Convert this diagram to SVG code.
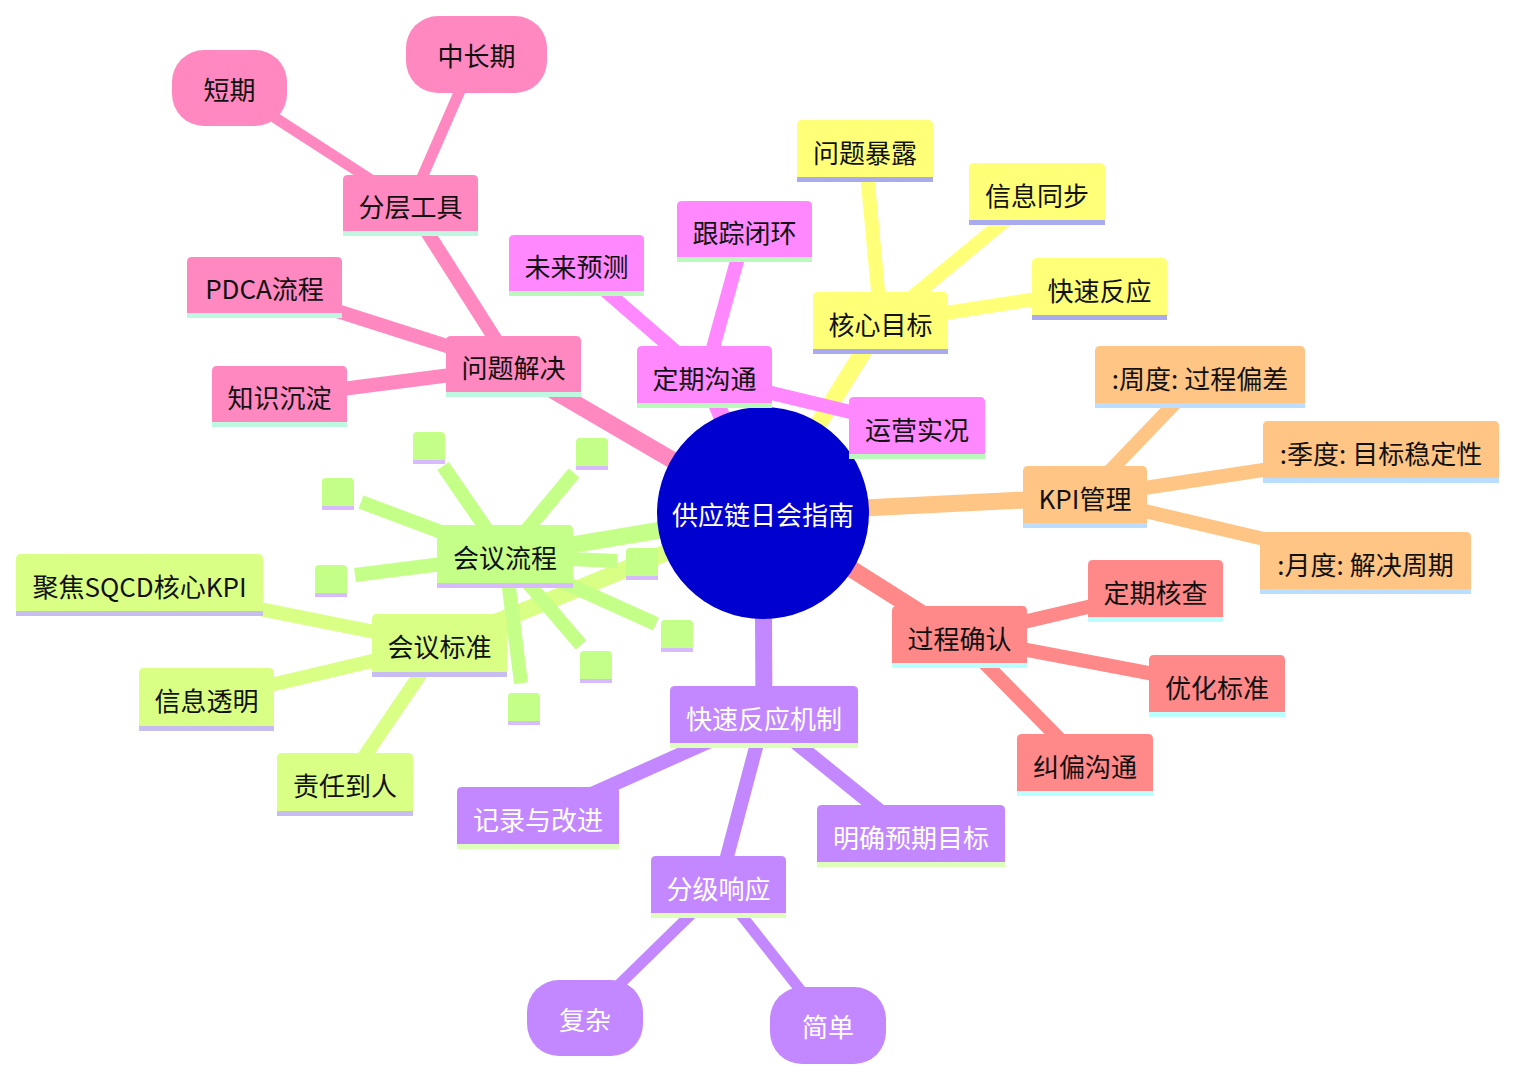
<svg xmlns="http://www.w3.org/2000/svg" width="1515" height="1080" viewBox="0 0 1515 1080">
<style>
text{font-family:"Noto Sans CJK SC","Noto Sans",sans-serif;font-size:26px;text-anchor:middle;dominant-baseline:central;fill:#111}
.e{fill:none;stroke-linecap:butt}
.d1{stroke-width:17}.d2{stroke-width:14}.d3{stroke-width:11}
.pk{fill:#ff88c0;stroke:#ff88c0}.pkS{fill:#bff8e0}
.mg{fill:#ff88ff;stroke:#ff88ff}.mgS{fill:#bbf8bb}
.yl{fill:#ffff78;stroke:#ffff78}.ylS{fill:#aaaaee}
.or{fill:#ffc585;stroke:#ffc585}.orS{fill:#bbddff}
.rd{fill:#ff8888;stroke:#ff8888}.rdS{fill:#bbffff}
.pu{fill:#c388ff;stroke:#c388ff}.puS{fill:#ddffbb}
.gr{fill:#c4ff88;stroke:#c4ff88}.grS{fill:#d8bbff}
.yg{fill:#d9ff84;stroke:#d9ff84}.ygS{fill:#c8bdf0}
.e.pk,.e.mg,.e.yl,.e.or,.e.rd,.e.pu,.e.gr,.e.yg{fill:none}
.n{stroke:none}
.w{fill:#fff}
</style>
<g id="connectors">
<line class="e d1 pk" x1="763" y1="513" x2="513" y2="367"/>
<line class="e d1 mg" x1="763" y1="513" x2="705" y2="377"/>
<line class="e d1 yl" x1="763" y1="513" x2="881" y2="323"/>
<line class="e d1 or" x1="763" y1="513" x2="1085" y2="497"/>
<line class="e d1 rd" x1="763" y1="513" x2="959" y2="637"/>
<line class="e d1 pu" x1="763" y1="513" x2="764" y2="717"/>
<line class="e d1 yg" x1="763" y1="513" x2="440" y2="645"/>
<line class="e d1 gr" x1="763" y1="513" x2="505" y2="556"/>
<line class="e d2 pk" x1="513" y1="367" x2="410" y2="205"/>
<line class="e d2 pk" x1="513" y1="367" x2="265" y2="288"/>
<line class="e d2 pk" x1="513" y1="367" x2="280" y2="397"/>
<line class="e d3 pk" x1="410" y1="205" x2="229" y2="88"/>
<line class="e d3 pk" x1="410" y1="205" x2="476" y2="54"/>
<line class="e d2 mg" x1="705" y1="377" x2="577" y2="266"/>
<line class="e d2 mg" x1="705" y1="377" x2="745" y2="232"/>
<line class="e d2 mg" x1="705" y1="377" x2="917" y2="428"/>
<line class="e d2 yl" x1="881" y1="323" x2="865" y2="151"/>
<line class="e d2 yl" x1="881" y1="323" x2="1037" y2="194"/>
<line class="e d2 yl" x1="881" y1="323" x2="1100" y2="289"/>
<line class="e d2 or" x1="1085" y1="497" x2="1200" y2="377"/>
<line class="e d2 or" x1="1085" y1="497" x2="1381" y2="452"/>
<line class="e d2 or" x1="1085" y1="497" x2="1366" y2="563"/>
<line class="e d2 rd" x1="959" y1="637" x2="1156" y2="591"/>
<line class="e d2 rd" x1="959" y1="637" x2="1217" y2="686"/>
<line class="e d2 rd" x1="959" y1="637" x2="1085" y2="765"/>
<line class="e d2 pu" x1="764" y1="717" x2="538" y2="818"/>
<line class="e d2 pu" x1="764" y1="717" x2="911" y2="836"/>
<line class="e d2 pu" x1="764" y1="717" x2="719" y2="887"/>
<line class="e d3 pu" x1="719" y1="887" x2="585" y2="1018"/>
<line class="e d3 pu" x1="719" y1="887" x2="828" y2="1025"/>
<line class="e d2 gr" x1="505" y1="556" x2="443" y2="466"/>
<line class="e d2 gr" x1="505" y1="556" x2="574" y2="473"/>
<line class="e d2 gr" x1="505" y1="556" x2="361" y2="502"/>
<line class="e d2 gr" x1="505" y1="556" x2="355" y2="575"/>
<line class="e d2 gr" x1="505" y1="556" x2="617" y2="561"/>
<line class="e d2 gr" x1="505" y1="556" x2="656" y2="624"/>
<line class="e d2 gr" x1="505" y1="556" x2="581" y2="645"/>
<line class="e d2 gr" x1="505" y1="556" x2="521" y2="683"/>
<line class="e d2 yg" x1="440" y1="645" x2="140" y2="585"/>
<line class="e d2 yg" x1="440" y1="645" x2="207" y2="700"/>
<line class="e d2 yg" x1="440" y1="645" x2="345" y2="785"/>
</g>
<g id="root">
<circle cx="763" cy="513" r="106" fill="#0000cf"/>
<text class="w" x="763" y="513">供应链日会指南</text>
</g>
<g id="n-wtjj"><path class="n pk" d="M446,397 V341 Q446,336 451,336 H576 Q581,336 581,341 V397 Z"/><rect class="pkS" x="446" y="392" width="135" height="5"/><text x="513.5" y="366.5">问题解决</text></g>
<g id="n-fcgj"><path class="n pk" d="M343,236 V180 Q343,175 348,175 H473 Q478,175 478,180 V236 Z"/><rect class="pkS" x="343" y="231" width="135" height="5"/><text x="410.5" y="205.5">分层工具</text></g>
<g id="n-pdca"><path class="n pk" d="M187,318 V262 Q187,257 192,257 H337 Q342,257 342,262 V318 Z"/><rect class="pkS" x="187" y="313" width="155" height="5"/><text x="264.5" y="287.5">PDCA流程</text></g>
<g id="n-zscd"><path class="n pk" d="M212,427 V371 Q212,366 217,366 H342 Q347,366 347,371 V427 Z"/><rect class="pkS" x="212" y="422" width="135" height="5"/><text x="279.5" y="396.5">知识沉淀</text></g>
<g id="n-dq"><rect class="n pk" x="172" y="50" width="115" height="76" rx="32"/><text x="229.5" y="88">短期</text></g>
<g id="n-zcq"><rect class="n pk" x="406" y="16" width="141" height="77" rx="32"/><text x="476.5" y="54.5">中长期</text></g>
<g id="n-dqgt"><path class="n mg" d="M637,408 V351 Q637,346 642,346 H767 Q772,346 772,351 V408 Z"/><rect class="mgS" x="637" y="403" width="135" height="5"/><text x="704.5" y="377">定期沟通</text></g>
<g id="n-wlyc"><path class="n mg" d="M509,296 V240 Q509,235 514,235 H639 Q644,235 644,240 V296 Z"/><rect class="mgS" x="509" y="291" width="135" height="5"/><text x="576.5" y="265.5">未来预测</text></g>
<g id="n-gzbh"><path class="n mg" d="M677,262 V206 Q677,201 682,201 H807 Q812,201 812,206 V262 Z"/><rect class="mgS" x="677" y="257" width="135" height="5"/><text x="744.5" y="231.5">跟踪闭环</text></g>
<g id="n-yysk"><path class="n mg" d="M849,459 V402 Q849,397 854,397 H980 Q985,397 985,402 V459 Z"/><rect class="mgS" x="849" y="454" width="136" height="5"/><text x="917" y="428">运营实况</text></g>
<g id="n-hxmb"><path class="n yl" d="M813,354 V297 Q813,292 818,292 H943 Q948,292 948,297 V354 Z"/><rect class="ylS" x="813" y="349" width="135" height="5"/><text x="880.5" y="323">核心目标</text></g>
<g id="n-wtbl"><path class="n yl" d="M797,182 V125 Q797,120 802,120 H928 Q933,120 933,125 V182 Z"/><rect class="ylS" x="797" y="177" width="136" height="5"/><text x="865" y="151">问题暴露</text></g>
<g id="n-xxtb"><path class="n yl" d="M969,225 V168 Q969,163 974,163 H1100 Q1105,163 1105,168 V225 Z"/><rect class="ylS" x="969" y="220" width="136" height="5"/><text x="1037" y="194">信息同步</text></g>
<g id="n-ksfy"><path class="n yl" d="M1032,320 V263 Q1032,258 1037,258 H1162 Q1167,258 1167,263 V320 Z"/><rect class="ylS" x="1032" y="315" width="135" height="5"/><text x="1099.5" y="289">快速反应</text></g>
<g id="n-kpi"><path class="n or" d="M1023,528 V471 Q1023,466 1028,466 H1142 Q1147,466 1147,471 V528 Z"/><rect class="orS" x="1023" y="523" width="124" height="5"/><text x="1085" y="497">KPI管理</text></g>
<g id="n-zd"><path class="n or" d="M1095,408 V351 Q1095,346 1100,346 H1300 Q1305,346 1305,351 V408 Z"/><rect class="orS" x="1095" y="403" width="210" height="5"/><text x="1200" y="377">:周度: 过程偏差</text></g>
<g id="n-jd"><path class="n or" d="M1263,483 V426 Q1263,421 1268,421 H1494 Q1499,421 1499,426 V483 Z"/><rect class="orS" x="1263" y="478" width="236" height="5"/><text x="1381" y="452">:季度: 目标稳定性</text></g>
<g id="n-yd"><path class="n or" d="M1260,594 V537 Q1260,532 1265,532 H1466 Q1471,532 1471,537 V594 Z"/><rect class="orS" x="1260" y="589" width="211" height="5"/><text x="1365.5" y="563">:月度: 解决周期</text></g>
<g id="n-gcqr"><path class="n rd" d="M892,668 V611 Q892,606 897,606 H1022 Q1027,606 1027,611 V668 Z"/><rect class="rdS" x="892" y="663" width="135" height="5"/><text x="959.5" y="637">过程确认</text></g>
<g id="n-dqhc"><path class="n rd" d="M1088,622 V565 Q1088,560 1093,560 H1218 Q1223,560 1223,565 V622 Z"/><rect class="rdS" x="1088" y="617" width="135" height="5"/><text x="1155.5" y="591">定期核查</text></g>
<g id="n-yhbz"><path class="n rd" d="M1149,717 V660 Q1149,655 1154,655 H1280 Q1285,655 1285,660 V717 Z"/><rect class="rdS" x="1149" y="712" width="136" height="5"/><text x="1217" y="686">优化标准</text></g>
<g id="n-jpgt"><path class="n rd" d="M1017,796 V739 Q1017,734 1022,734 H1148 Q1153,734 1153,739 V796 Z"/><rect class="rdS" x="1017" y="791" width="136" height="5"/><text x="1085" y="765">纠偏沟通</text></g>
<g id="n-ksfyjz"><path class="n pu" d="M670,748 V691 Q670,686 675,686 H853 Q858,686 858,691 V748 Z"/><rect class="puS" x="670" y="743" width="188" height="5"/><text class="w" x="764" y="717">快速反应机制</text></g>
<g id="n-jlygj"><path class="n pu" d="M457,849 V792 Q457,787 462,787 H614 Q619,787 619,792 V849 Z"/><rect class="puS" x="457" y="844" width="162" height="5"/><text class="w" x="538" y="818">记录与改进</text></g>
<g id="n-mqyq"><path class="n pu" d="M817,867 V810 Q817,805 822,805 H1000 Q1005,805 1005,810 V867 Z"/><rect class="puS" x="817" y="862" width="188" height="5"/><text class="w" x="911" y="836">明确预期目标</text></g>
<g id="n-fjxy"><path class="n pu" d="M651,918 V861 Q651,856 656,856 H781 Q786,856 786,861 V918 Z"/><rect class="puS" x="651" y="913" width="135" height="5"/><text class="w" x="718.5" y="887">分级响应</text></g>
<g id="n-fz"><rect class="n pu" x="527" y="980" width="116" height="76" rx="32"/><text class="w" x="585" y="1018">复杂</text></g>
<g id="n-jd2"><rect class="n pu" x="770" y="987" width="116" height="77" rx="32"/><text class="w" x="828" y="1025.5">简单</text></g>
<g id="n-hylc"><path class="n gr" d="M437,588 V530 Q437,525 442,525 H568 Q573,525 573,530 V588 Z"/><rect class="grS" x="437" y="583" width="136" height="5"/><text x="505" y="556.5">会议流程</text></g>
<g id="n-e1"><path class="n gr" d="M413,464 V436 Q413,432 417,432 H441 Q445,432 445,436 V464 Z"/><rect class="grS" x="413" y="460" width="32" height="4"/></g>
<g id="n-e2"><path class="n gr" d="M576,470 V442 Q576,438 580,438 H604 Q608,438 608,442 V470 Z"/><rect class="grS" x="576" y="466" width="32" height="4"/></g>
<g id="n-e3"><path class="n gr" d="M322,510 V482 Q322,478 326,478 H350 Q354,478 354,482 V510 Z"/><rect class="grS" x="322" y="506" width="32" height="4"/></g>
<g id="n-e4"><path class="n gr" d="M315,597 V569 Q315,565 319,565 H343 Q347,565 347,569 V597 Z"/><rect class="grS" x="315" y="593" width="32" height="4"/></g>
<g id="n-e5"><path class="n gr" d="M626,580 V552 Q626,548 630,548 H654 Q658,548 658,552 V580 Z"/><rect class="grS" x="626" y="576" width="32" height="4"/></g>
<g id="n-e6"><path class="n gr" d="M661,652 V624 Q661,620 665,620 H689 Q693,620 693,624 V652 Z"/><rect class="grS" x="661" y="648" width="32" height="4"/></g>
<g id="n-e7"><path class="n gr" d="M580,683 V655 Q580,651 584,651 H608 Q612,651 612,655 V683 Z"/><rect class="grS" x="580" y="679" width="32" height="4"/></g>
<g id="n-e8"><path class="n gr" d="M508,725 V697 Q508,693 512,693 H536 Q540,693 540,697 V725 Z"/><rect class="grS" x="508" y="721" width="32" height="4"/></g>
<g id="n-hybz"><path class="n yg" d="M372,677 V619 Q372,614 377,614 H502 Q507,614 507,619 V677 Z"/><rect class="ygS" x="372" y="672" width="135" height="5"/><text x="439.5" y="645.5">会议标准</text></g>
<g id="n-sqcd"><path class="n yg" d="M16,616 V559 Q16,554 21,554 H258 Q263,554 263,559 V616 Z"/><rect class="ygS" x="16" y="611" width="247" height="5"/><text x="139.5" y="585">聚焦SQCD核心KPI</text></g>
<g id="n-xxtm"><path class="n yg" d="M139,731 V673 Q139,668 144,668 H269 Q274,668 274,673 V731 Z"/><rect class="ygS" x="139" y="726" width="135" height="5"/><text x="206.5" y="699.5">信息透明</text></g>
<g id="n-zrdr"><path class="n yg" d="M277,816 V758 Q277,753 282,753 H408 Q413,753 413,758 V816 Z"/><rect class="ygS" x="277" y="811" width="136" height="5"/><text x="345" y="784.5">责任到人</text></g>
</svg>
